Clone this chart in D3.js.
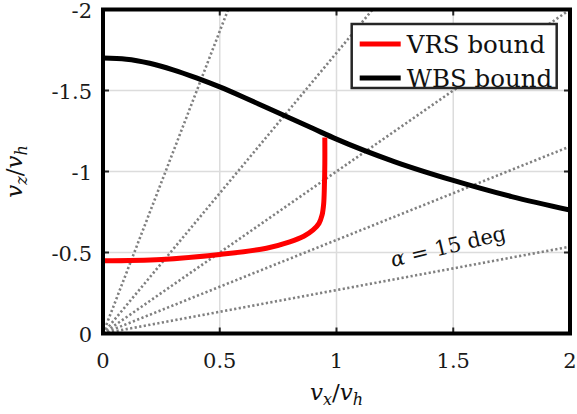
<!DOCTYPE html>
<html>
<head>
<meta charset="utf-8">
<script src="https://cdn.jsdelivr.net/npm/d3@7"></script>
<style>
  body { margin: 0; background: #fff; }
</style>
</head>
<body>
<div id="chart"></div>
<script>
'use strict'

// values (v_x/v_h , v_z/v_h)
let vrs_x = [0, 0.25, 0.5, 0.7, 0.8, 0.86, 0.9, 0.925, 0.938, 0.945, 0.948, 0.95, 0.95]
let vrs_z = [-0.449, -0.457, -0.488, -0.526, -0.565, -0.6, -0.639, -0.68, -0.73, -0.8, -0.9, -1.05, -1.21]

let wbs_x = [0, 0.1, 0.2, 0.3, 0.4, 0.5, 0.6, 0.7, 0.8, 0.9, 1, 1.25, 1.5, 1.75, 2]
let wbs_z = [-1.70, -1.693, -1.668, -1.628, -1.578, -1.522, -1.46, -1.395, -1.33, -1.265, -1.2, -1.06, -0.945, -0.845, -0.762]

let ray_angles = [15, 30, 45, 60, 75]
let x_ticks = [0, 0.5, 1, 1.5, 2]
let y_ticks = [0, -0.5, -1, -1.5, -2]
let legend_names = ['VRS bound', 'WBS bound']
let legend_colors = ['#ff0000', '#000000']

let serif = '"DejaVu Serif", serif'

function wrapper(){
	let svg_width = 577
	let svg_height = 414
	let padding = {top: 9.5, left: 103, right: 7, bottom: 80.5}
	let w = svg_width - padding.left - padding.right
	let h = svg_height - padding.top - padding.bottom

	let xScale = d3.scaleLinear().domain([0, 2]).range([0, w])
	let yScale = d3.scaleLinear().domain([0, -2]).range([h, 0])

	let svg = d3.select('#chart').append('svg')
		.attr('width', svg_width).attr('height', svg_height)
		.attr('font-family', serif)
		.style('font-family', serif)

	svg.append('defs').append('clipPath').attr('id', 'clip')
		.append('rect').attr('width', w).attr('height', h)

	let g = svg.append('g').attr('transform', 'translate(' + padding.left + ',' + padding.top + ')')

	// grid
	g.append('g').selectAll('line').data(x_ticks.slice(1, -1)).enter().append('line')
		.attr('x1', d => xScale(d)).attr('x2', d => xScale(d))
		.attr('y1', 0).attr('y2', h)
		.attr('stroke', '#dcdcdc').attr('stroke-width', 1.5)
	g.append('g').selectAll('line').data(y_ticks.slice(1, -1)).enter().append('line')
		.attr('y1', d => yScale(d)).attr('y2', d => yScale(d))
		.attr('x1', 0).attr('x2', w)
		.attr('stroke', '#dcdcdc').attr('stroke-width', 1.5)

	// tick marks on all four sides, pointing in
	let tick_len = 6
	let tg = g.append('g').attr('stroke', '#262626').attr('stroke-width', 2)
	x_ticks.forEach(function(t){
		tg.append('line').attr('x1', xScale(t)).attr('x2', xScale(t)).attr('y1', h).attr('y2', h - tick_len)
		tg.append('line').attr('x1', xScale(t)).attr('x2', xScale(t)).attr('y1', 0).attr('y2', tick_len)
	})
	y_ticks.forEach(function(t){
		tg.append('line').attr('y1', yScale(t)).attr('y2', yScale(t)).attr('x1', 0).attr('x2', tick_len)
		tg.append('line').attr('y1', yScale(t)).attr('y2', yScale(t)).attr('x1', w).attr('x2', w - tick_len)
	})

	// dotted rays from origin
	let plot_g = g.append('g').attr('clip-path', 'url(#clip)')
	plot_g.selectAll('.ray').data(ray_angles).enter().append('line')
		.attr('class', 'ray')
		.attr('x1', xScale(0)).attr('y1', yScale(0))
		.attr('x2', function(a){
			let t = Math.tan(a * Math.PI / 180)
			return xScale(Math.min(2, 2 / t))
		})
		.attr('y2', function(a){
			let t = Math.tan(a * Math.PI / 180)
			return yScale(-Math.min(2, 2 / t) * t)
		})
		.attr('stroke', '#808080').attr('stroke-width', 2.6)
		.attr('stroke-dasharray', '2.2,2.4')

	plot_g.append('path')
		.datum(wbs_x.map((x, i) => [x, wbs_z[i]]))
		.attr('fill', 'none').attr('stroke', '#000').attr('stroke-width', 5)
		.attr('d', d3.line()
			.x(d => xScale(d[0]))
			.y(d => yScale(d[1]))
			.curve(d3.curveMonotoneX))

	plot_g.append('path')
		.datum(vrs_x.map((x, i) => [x, vrs_z[i]]))
		.attr('fill', 'none').attr('stroke', '#ff0000').attr('stroke-width', 5)
		.attr('d', d3.line()
			.x(d => xScale(d[0]))
			.y(d => yScale(d[1]))
			.curve(d3.curveCatmullRom.alpha(0.5)))

	// annotation
	g.append('text')
		.attr('transform', 'translate(' + xScale(1.24) + ',' + yScale(-0.41) + ') rotate(-13.5)')
		.attr('fill', '#111')
		.style('font-size', '21px')
		.html('<tspan font-style="italic">α</tspan> = 15 deg')

	// frame
	g.append('rect').attr('width', w).attr('height', h)
		.attr('fill', 'none').attr('stroke', '#000').attr('stroke-width', 4)

	// tick labels
	g.append('g').selectAll('text').data(x_ticks).enter().append('text')
		.attr('x', d => xScale(d)).attr('y', h + 34)
		.attr('text-anchor', 'middle')
		.attr('fill', '#1a1a1a')
		.style('font-size', '21px')
		.text(d => d)
	g.append('g').selectAll('text').data(y_ticks).enter().append('text')
		.attr('x', -11).attr('y', d => yScale(d))
		.attr('dy', '0.4em')
		.attr('text-anchor', 'end')
		.attr('fill', '#1a1a1a')
		.style('font-size', '21px')
		.text(d => d == 0 ? '0' : '-' + Math.abs(d))

	// axis labels
	let xl = svg.append('text')
		.attr('x', padding.left + w / 2).attr('y', 400)
		.attr('text-anchor', 'middle')
		.attr('fill', '#111')
		.style('font-size', '23px').style('font-style', 'italic')
	xl.append('tspan').text('v')
	xl.append('tspan').attr('dy', 5).style('font-size', '16px').text('x')
	xl.append('tspan').attr('dy', -5).style('font-style', 'normal').text('/')
	xl.append('tspan').text('v')
	xl.append('tspan').attr('dy', 5).style('font-size', '16px').text('h')

	let yl = svg.append('text')
		.attr('transform', 'translate(22,' + (padding.top + h / 2) + ') rotate(-90)')
		.attr('text-anchor', 'middle')
		.attr('fill', '#111')
		.style('font-size', '23px').style('font-style', 'italic')
	yl.append('tspan').text('v')
	yl.append('tspan').attr('dy', 5).style('font-size', '16px').text('z')
	yl.append('tspan').attr('dy', -5).style('font-style', 'normal').text('/')
	yl.append('tspan').text('v')
	yl.append('tspan').attr('dy', 5).style('font-size', '16px').text('h')

	// legend
	let lg = svg.append('g').attr('transform', 'translate(351.7,24)')
	lg.append('rect').attr('width', 205).attr('height', 64)
		.attr('fill', '#fff').attr('stroke', '#262626').attr('stroke-width', 2.5)
	let items = lg.selectAll('.item').data(legend_names).enter().append('g')
		.attr('transform', (d, i) => 'translate(0,' + (20 + i * 34) + ')')
	items.append('line')
		.attr('x1', 8).attr('x2', 49).attr('y1', 0).attr('y2', 0)
		.attr('stroke', (d, i) => legend_colors[i]).attr('stroke-width', 5)
	items.append('text')
		.attr('x', 55).attr('y', 8.5)
		.attr('fill', '#111')
		.style('font-size', '24.5px')
		.text(d => d)
}

wrapper()
</script>
</body>
</html>
